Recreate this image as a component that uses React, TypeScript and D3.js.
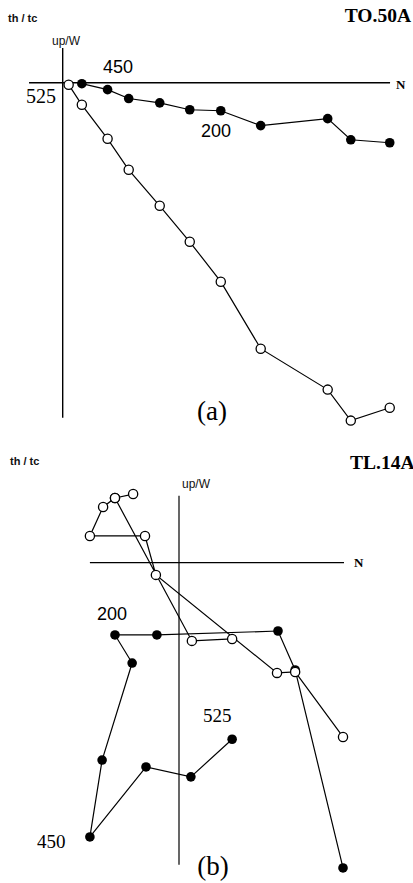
import React from 'react';
import * as d3 from 'd3';

// panel (a) TO.50A : N positions shared by both series
const nA = [0.18, 0.58, 1.36, 2.0, 2.94, 3.85, 4.79, 6.0, 8.03, 8.73, 9.91];
const upA = [-0.03, -0.21, -0.48, -0.61, -0.82, -0.85, -1.3, -1.09, -1.73, -1.82]; // filled, starts at nA[1]
const thA = [-0.06, -0.67, -1.7, -2.64, -3.73, -4.82, -6.03, -8.06, -9.3, -10.24, -9.85]; // open

// panel (b) TL.14A
const nUpB = [1.61, 0.36, -1.0, -2.7, -2.33, -1.42, -1.94, -0.67, 3.0, 3.52, 4.97];
const upB = [-5.35, -6.49, -6.19, -8.31, -5.98, -3.04, -2.19, -2.19, -2.07, -3.25, -9.25];
const nThB = [1.61, 0.39, -1.94, -2.3, -2.7, -1.03, -0.7, 2.97, 3.52, 4.97];
const thB = [-2.31, -2.37, 1.96, 1.69, 0.81, 0.81, -0.37, -3.34, -3.31, -5.28];
const nThBranch = [-1.94, -1.39];
const thBranch = [1.96, 2.08];

const UNIT = 33;
const serif = '"Liberation Serif", "DejaVu Serif", serif';
const sans = '"Liberation Sans", Arial, sans-serif';

type Pt = [number, number];
const zip = (xs: number[], ys: number[]): Pt[] => ys.map((y, i) => [xs[i], y]);

function Series({ pts, x, y, open }: { pts: Pt[]; x: any; y: any; open: boolean }) {
  const line = d3.line<Pt>().x(d => x(d[0])).y(d => y(d[1]));
  return (
    <g>
      <path d={line(pts) || ''} fill="none" stroke="#000" strokeWidth={1.2} />
      {pts.map((d, i) => (
        <circle key={i} cx={x(d[0])} cy={y(d[1])} r={open ? 4.6 : 4.8}
          fill={open ? '#fff' : '#000'} stroke="#000" strokeWidth={open ? 1.3 : 0} />
      ))}
    </g>
  );
}

function scales(ox: number, oy: number) {
  const x = d3.scaleLinear().domain([0, 1]).range([ox, ox + UNIT]);
  const y = d3.scaleLinear().domain([0, 1]).range([oy, oy - UNIT]);
  return { x, y };
}

export default function App() {
  const a = scales(62.7, 82.7);
  const b = scales(179, 562.7);
  return (
    <svg width={413} height={883} style={{ position: 'absolute', left: 0, top: 0 }}>
      <rect width={413} height={883} fill="#fff" />
      {/* panel (a) */}
      <g>
        <line x1={a.x(-1.02)} x2={a.x(9.92)} y1={a.y(0)} y2={a.y(0)} stroke="#000" strokeWidth={1.4} />
        <line x1={a.x(0)} x2={a.x(0)} y1={a.y(1.05)} y2={a.y(-10.15)} stroke="#000" strokeWidth={1.4} />
        <text x={8} y={22} fontFamily={sans} fontSize={11} fontWeight="bold" fill="#111">th / tc</text>
        <text x={52} y={45} fontFamily={sans} fontSize={12} fill="#111">up/W</text>
        <text x={411} y={22} textAnchor="end" fontFamily={serif} fontSize={19.5} fontWeight="bold">TO.50A</text>
        <text x={396} y={89} fontFamily={serif} fontSize={13} fontWeight="bold">N</text>
        <text x={103} y={73} fontFamily={sans} fontSize={18}>450</text>
        <text x={26} y={103} fontFamily={serif} fontSize={20}>525</text>
        <text x={201} y={137} fontFamily={sans} fontSize={18}>200</text>
        <text x={212} y={420} textAnchor="middle" fontFamily={serif} fontSize={27}>(a)</text>
        <Series pts={zip(nA.slice(1), upA)} x={a.x} y={a.y} open={false} />
        <Series pts={zip(nA, thA)} x={a.x} y={a.y} open={true} />
      </g>
      {/* panel (b) */}
      <g>
        <line x1={b.x(-2.7)} x2={b.x(5.0)} y1={b.y(0)} y2={b.y(0)} stroke="#000" strokeWidth={1.2} />
        <line x1={b.x(0)} x2={b.x(0)} y1={b.y(2.03)} y2={b.y(-9.15)} stroke="#000" strokeWidth={1.2} />
        <text x={10} y={465} fontFamily={sans} fontSize={11} fontWeight="bold" fill="#111">th / tc</text>
        <text x={182} y={488} fontFamily={sans} fontSize={12} fill="#111">up/W</text>
        <text x={350} y={469} fontFamily={serif} fontSize={19.5} fontWeight="bold">TL.14A</text>
        <text x={354} y={567} fontFamily={serif} fontSize={13} fontWeight="bold">N</text>
        <text x={97} y={620} fontFamily={sans} fontSize={18}>200</text>
        <text x={203} y={722} fontFamily={serif} fontSize={19}>525</text>
        <text x={37} y={848} fontFamily={serif} fontSize={19}>450</text>
        <text x={213} y={875} textAnchor="middle" fontFamily={serif} fontSize={27}>(b)</text>
        <Series pts={zip(nUpB, upB)} x={b.x} y={b.y} open={false} />
        <Series pts={zip(nThBranch, thBranch)} x={b.x} y={b.y} open={true} />
        <Series pts={zip(nThB, thB)} x={b.x} y={b.y} open={true} />
      </g>
    </svg>
  );
}
